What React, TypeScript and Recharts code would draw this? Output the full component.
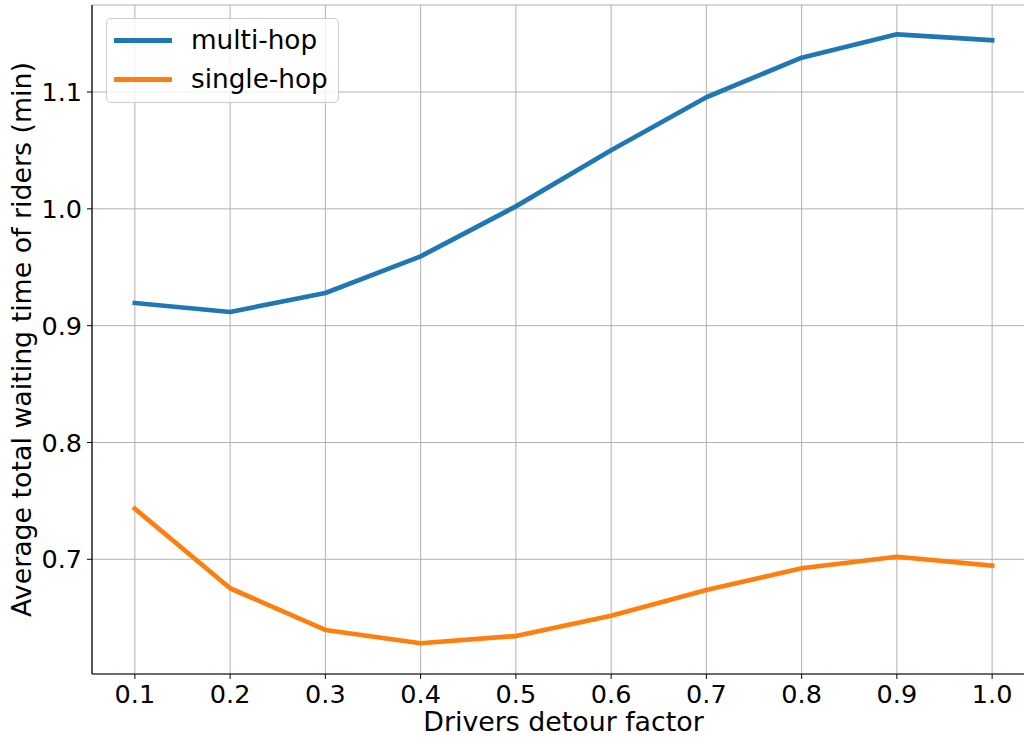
import React from "react";
import {
  CartesianGrid,
  Legend,
  Line,
  LineChart,
  XAxis,
  YAxis,
} from "recharts";

const detourFactors = [0.1, 0.2, 0.3, 0.4, 0.5, 0.6, 0.7, 0.8, 0.9, 1.0];
const multiHop = [0.9194, 0.9117, 0.928, 0.9593, 1.0021, 1.0501, 1.0955, 1.1294, 1.1494, 1.1443];
const singleHop = [0.7433, 0.6752, 0.6395, 0.6281, 0.6343, 0.6517, 0.6737, 0.6923, 0.7022, 0.6945];
const xTicks = [0.1, 0.2, 0.3, 0.4, 0.5, 0.6, 0.7, 0.8, 0.9, 1.0];
const yTicks = [0.7, 0.8, 0.9, 1.0, 1.1];

const data = detourFactors.map((x, i) => ({ x, multi: multiHop[i], single: singleHop[i] }));

const FONT = "DejaVu Sans, sans-serif";
const BLUE = "#1f77b4";
const ORANGE = "#ff7f0e";

const XTick = (props: any) => {
  const { x, y, payload } = props;
  return (
    <text x={x} y={y} dy={24} textAnchor="middle" fontFamily={FONT} fontSize={25.5} fill="#000">
      {payload.value.toFixed(1)}
    </text>
  );
};

const YTick = (props: any) => {
  const { x, y, payload } = props;
  return (
    <text x={x - 5} y={y} dy="0.36em" textAnchor="end" fontFamily={FONT} fontSize={25.5} fill="#000">
      {payload.value.toFixed(1)}
    </text>
  );
};

const YLabel = (props: any) => {
  const { viewBox } = props;
  const cy = viewBox.y + viewBox.height / 2;
  return (
    <text
      x={21}
      y={cy}
      transform={`rotate(-90, 21, ${cy})`}
      textAnchor="middle"
      dominantBaseline="central"
      fontFamily={FONT}
      fontSize={26.8}
      fill="#000"
    >
      Average total waiting time of riders (min)
    </text>
  );
};

const XLabel = (props: any) => {
  const { viewBox } = props;
  const cx = viewBox.x + viewBox.width / 2;
  return (
    <text x={cx} y={731} textAnchor="middle" fontFamily={FONT} fontSize={26.8} fill="#000">
      Drivers detour factor
    </text>
  );
};

const LegendBox = () => {
  const items = [
    { name: "multi-hop", color: BLUE },
    { name: "single-hop", color: ORANGE },
  ];
  return (
    <div
      style={{
        width: 231,
        height: 83,
        border: "1px solid #cccccc",
        borderRadius: 5,
        background: "rgba(255,255,255,0.8)",
        fontFamily: FONT,
        fontSize: 26.3,
        position: "relative",
      }}
    >
      {items.map((it, i) => (
        <div
          key={it.name}
          style={{ position: "absolute", left: 0, top: 1 + i * 39, height: 40, display: "flex", alignItems: "center" }}
        >
          <div style={{ marginLeft: 7, width: 58, height: 5, background: it.color }} />
          <span style={{ marginLeft: 19, color: "#000", lineHeight: "40px" }}>{it.name}</span>
        </div>
      ))}
    </div>
  );
};

export default function App() {
  return (
    <div style={{ position: "absolute", left: 0, top: 0, width: 1024, height: 737, overflow: "hidden", background: "#fff" }}>
      <LineChart width={1045} height={737} data={data} margin={{ top: 5, right: 10, bottom: 0, left: 0 }}>
        <CartesianGrid stroke="#b0b0b0" strokeWidth={1} />
        <XAxis
          dataKey="x"
          type="number"
          domain={[0.055, 1.045]}
          ticks={xTicks}
          allowDataOverflow
          height={63}
          tickSize={5}
          tickMargin={0}
          tickLine={{ stroke: "#000", strokeWidth: 1 }}
          axisLine={{ stroke: "#000", strokeWidth: 1.2 }}
          tick={<XTick />}
          label={<XLabel />}
        />
        <XAxis xAxisId="top" orientation="top" dataKey="x" type="number" domain={[0.055, 1.045]} height={0} tick={false} tickLine={false} axisLine={{ stroke: "#000", strokeWidth: 1.2 }} />
        <YAxis
          type="number"
          domain={[0.6018, 1.1745]}
          ticks={yTicks}
          allowDataOverflow
          width={92}
          tickSize={5}
          tickMargin={0}
          tickLine={{ stroke: "#000", strokeWidth: 1 }}
          axisLine={{ stroke: "#000", strokeWidth: 1.2 }}
          tick={<YTick />}
          label={<YLabel />}
        />
        <Legend
          layout="horizontal"
          verticalAlign="middle"
          align="center"
          content={<LegendBox />}
          wrapperStyle={{ position: "absolute", left: 106, top: 18, width: 233, height: 85 }}
        />
        <Line dataKey="multi" name="multi-hop" stroke={BLUE} strokeWidth={4.7} dot={false} isAnimationActive={false} strokeLinejoin="round" strokeLinecap="square" />
        <Line dataKey="single" name="single-hop" stroke={ORANGE} strokeWidth={4.7} dot={false} isAnimationActive={false} strokeLinejoin="round" strokeLinecap="square" />
      </LineChart>
    </div>
  );
}
